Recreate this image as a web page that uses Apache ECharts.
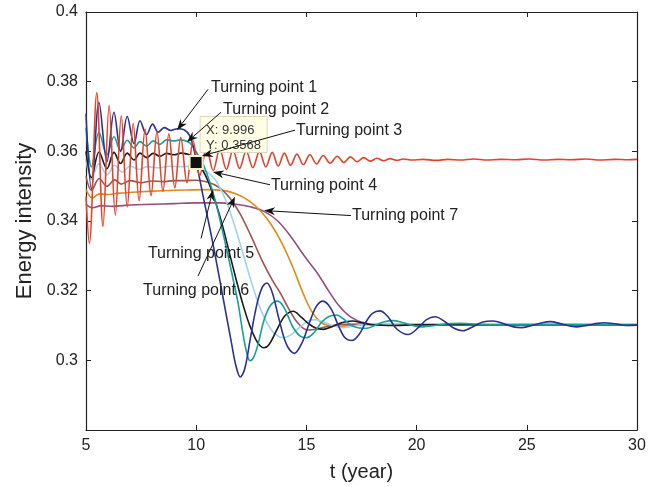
<!DOCTYPE html>
<html>
<head>
<meta charset="utf-8">
<script src="https://cdn.jsdelivr.net/npm/echarts@6/dist/echarts.min.js"></script>
<style>
  html, body { margin: 0; padding: 0; background: #fff; }
  #chart { width: 661px; height: 487px; }
</style>
</head>
<body>
<div id="chart"></div>
<script>
// 曲线数据 [t, 能源强度]
const navyLine = [[5.0,0.3708],[5.25,0.3492],[5.59,0.3740],[5.95,0.3570],[6.27,0.3712],[6.57,0.3600],[6.87,0.3700],[7.18,0.3622],[7.45,0.3688],[7.75,0.3648],[8.02,0.3678],[8.28,0.3655],[8.55,0.3668],[8.85,0.3660],[9.15,0.3665],[9.45,0.3662],[9.7,0.3645],[9.9,0.3605],[10.1,0.3540],[10.35,0.3460],[10.6,0.3385],[10.85,0.3305],[11.1,0.3220],[11.35,0.3135],[11.6,0.3050],[11.8,0.2985],[12.0,0.2952],[12.2,0.2975],[12.45,0.3060],[12.75,0.3160],[13.0,0.3210],[13.2,0.3222],[13.45,0.3195],[13.75,0.3120],[14.1,0.3045],[14.45,0.3020],[14.8,0.3050],[15.15,0.3110],[15.45,0.3155],[15.75,0.3170],[16.1,0.3150],[16.45,0.3100],[16.75,0.3065],[17.07,0.3057],[17.4,0.3075],[17.7,0.3110],[18.0,0.3135],[18.34,0.3142],[18.7,0.3125],[19.1,0.3090],[19.61,0.3074],[20.1,0.3095],[20.45,0.3117],[20.84,0.3125],[21.3,0.3110],[21.7,0.3092],[22.1,0.3085],[22.6,0.3098],[23.0,0.3110],[23.47,0.3113],[24.0,0.3104],[24.4,0.3096],[24.78,0.3094],[25.3,0.3101],[25.7,0.3108],[26.05,0.3111],[26.6,0.3104],[27.0,0.3098],[27.28,0.3096],[27.8,0.3101],[28.2,0.3106],[28.5,0.3108],[29.0,0.3105],[29.5,0.3100],[30.0,0.3101]];

const tealLine = [[5.0,0.3668],[5.25,0.3555],[5.59,0.3655],[5.95,0.3590],[6.27,0.3642],[6.57,0.3602],[6.87,0.3632],[7.18,0.3610],[7.45,0.3628],[7.75,0.3615],[8.05,0.3630],[8.35,0.3620],[8.65,0.3633],[9.0,0.3630],[9.3,0.3633],[9.6,0.3628],[9.8,0.3618],[10.0,0.3598],[10.3,0.3565],[10.6,0.3515],[10.9,0.3450],[11.2,0.3370],[11.5,0.3285],[11.7,0.3225],[11.9,0.3165],[12.1,0.3085],[12.28,0.3025],[12.44,0.2999],[12.6,0.3008],[12.8,0.3045],[13.1,0.3120],[13.4,0.3160],[13.7,0.3170],[14.0,0.3150],[14.35,0.3100],[14.7,0.3070],[15.0,0.3065],[15.35,0.3080],[15.7,0.3110],[16.0,0.3125],[16.37,0.3130],[16.7,0.3118],[17.05,0.3100],[17.4,0.3093],[17.73,0.3092],[18.1,0.3100],[18.5,0.3110],[18.93,0.3114],[19.4,0.3108],[19.9,0.3099],[20.3,0.3096],[20.8,0.3100],[21.4,0.3105],[22.0,0.3106],[23.0,0.3103],[24.0,0.3102],[26.0,0.3103],[28.0,0.3102],[30.0,0.3102]];

const blackLine = [[5.0,0.3600],[5.25,0.3525],[5.59,0.3598],[5.95,0.3550],[6.27,0.3597],[6.57,0.3565],[6.87,0.3595],[7.18,0.3575],[7.45,0.3595],[7.75,0.3582],[8.05,0.3594],[8.35,0.3586],[8.65,0.3594],[9.0,0.3590],[9.3,0.3595],[9.6,0.3592],[9.85,0.3585],[10.0,0.3568],[10.3,0.3545],[10.6,0.3505],[10.9,0.3450],[11.2,0.3385],[11.5,0.3310],[11.8,0.3235],[12.1,0.3165],[12.4,0.3105],[12.7,0.3060],[12.9,0.3042],[13.08,0.3036],[13.3,0.3045],[13.6,0.3080],[13.95,0.3122],[14.2,0.3137],[14.4,0.3141],[14.75,0.3125],[15.1,0.3105],[15.45,0.3092],[15.77,0.3089],[16.1,0.3095],[16.5,0.3106],[16.8,0.3111],[17.1,0.3113],[17.5,0.3108],[18.0,0.3102],[19.0,0.3100],[20.0,0.3102],[22.0,0.3102],[25.0,0.3102],[30.0,0.3102]];

const lightBlueLine = [[5.0,0.3578],[5.25,0.3520],[5.6,0.3565],[5.95,0.3532],[6.3,0.3560],[6.65,0.3540],[7.0,0.3558],[7.4,0.3548],[7.8,0.3556],[8.3,0.3553],[8.8,0.3557],[9.3,0.3556],[9.8,0.3557],[10.2,0.3550],[10.67,0.3532],[11.0,0.3505],[11.4,0.3450],[11.8,0.3375],[12.2,0.3290],[12.6,0.3205],[13.0,0.3135],[13.4,0.3088],[13.7,0.3070],[13.95,0.3065],[14.3,0.3073],[14.7,0.3095],[15.05,0.3112],[15.39,0.3117],[15.8,0.3110],[16.2,0.3099],[16.66,0.3094],[17.1,0.3098],[17.6,0.3104],[18.3,0.3105],[19.0,0.3103],[22.0,0.3103],[26.0,0.3103],[30.0,0.3103]];

const brownLine = [[5.0,0.3528],[5.25,0.3488],[5.6,0.3522],[5.95,0.3500],[6.3,0.3518],[6.6,0.3506],[7.0,0.3516],[7.5,0.3510],[8.0,0.3515],[8.5,0.3513],[9.0,0.3516],[9.5,0.3516],[10.0,0.3517],[10.5,0.3512],[11.0,0.3498],[11.5,0.3468],[12.0,0.3420],[12.5,0.3355],[13.0,0.3285],[13.5,0.3225],[13.8,0.3195],[14.2,0.3148],[14.6,0.3108],[15.05,0.3087],[15.5,0.3090],[16.0,0.3098],[16.6,0.3103],[17.5,0.3104],[18.5,0.3103],[22.0,0.3103],[26.0,0.3103],[30.0,0.3103]];

const orangeLine = [[5.0,0.3490],[5.3,0.3466],[5.6,0.3478],[6.0,0.3476],[6.5,0.3480],[7.5,0.3484],[8.5,0.3487],[9.5,0.3489],[10.5,0.3490],[11.2,0.3488],[11.8,0.3478],[12.4,0.3458],[12.9,0.3430],[13.4,0.3390],[13.9,0.3335],[14.4,0.3265],[14.8,0.3200],[15.2,0.3145],[15.6,0.3112],[16.0,0.3100],[16.5,0.3098],[17.2,0.3101],[18.0,0.3103],[22.0,0.3103],[26.0,0.3103],[30.0,0.3103]];

const purpleLine = [[5.0,0.3448],[5.3,0.3438],[5.7,0.3444],[6.2,0.3442],[7.0,0.3446],[8.0,0.3448],[9.0,0.3450],[10.0,0.3452],[11.0,0.3452],[11.8,0.3448],[12.5,0.3440],[13.1,0.3427],[13.7,0.3400],[14.3,0.3355],[14.9,0.3300],[15.5,0.3250],[16.0,0.3200],[16.5,0.3155],[17.0,0.3125],[17.6,0.3108],[18.3,0.3103],[19.0,0.3102],[24.0,0.3102],[30.0,0.3102]];

const redLine = [[5.0,0.3470],[5.15,0.3336],[5.49,0.3768],[5.77,0.3384],[6.05,0.3732],[6.33,0.3417],[6.6,0.3702],[6.87,0.3440],[7.14,0.3680],[7.41,0.3458],[7.68,0.3664],[7.95,0.3472],[8.22,0.3656],[8.49,0.3485],[8.76,0.3650],[9.03,0.3495],[9.3,0.3640],[9.58,0.3510],[9.86,0.3630],[10.16,0.3530],[10.47,0.3610],[10.77,0.3545],[11.07,0.3606],[11.37,0.3548],[11.67,0.3603],[11.97,0.3551],[12.27,0.3601],[12.57,0.3553],[12.87,0.3600],[13.16,0.3555],[13.45,0.3597],[13.72,0.3558],[14.0,0.3595],[14.28,0.3560],[14.57,0.3592],[14.86,0.3562],[15.16,0.3590],[15.46,0.3564],[15.76,0.3588],[16.08,0.3566],[16.4,0.3586],[16.7,0.3568],[17.0,0.3584],[17.3,0.3570],[17.6,0.3582],[17.9,0.3572],[18.2,0.3580],[18.5,0.3573],[18.8,0.3579],[19.1,0.3574],[19.4,0.3578],[19.8,0.3575],[20.3,0.3577],[20.9,0.3574],[21.4,0.3577],[22.0,0.3575],[22.6,0.3578],[23.2,0.3575],[23.8,0.3577],[24.5,0.3576],[25.1,0.3578],[25.8,0.3575],[26.4,0.3577],[27.0,0.3576],[27.7,0.3578],[28.3,0.3575],[29.0,0.3577],[29.6,0.3576],[30.0,0.3577]];

const lineColors = ['#2b3190', '#17a09b', '#1a1a1a', '#9fd3f2', '#a0534f', '#e08a1a', '#8e4f84', '#e2442b'];

// 转折点标注: 文字位置, 箭头起点, 箭头终点 (数据坐标)
const turningNotes = [
  { text: 'Turning point 1', at: [10.67, 0.37834], from: [10.535, 0.37777], to: [9.13, 0.36608] },
  { text: 'Turning point 2', at: [11.22, 0.37206], from: [11.125, 0.37121], to: [9.58, 0.36266] },
  { text: 'Turning point 3', at: [14.53, 0.36608], from: [14.48, 0.36608], to: [10.26, 0.35867] },
  { text: 'Turning point 4', at: [13.39, 0.35011], from: [13.35, 0.3504], to: [10.76, 0.3541] },
  { text: 'Turning point 5', at: [7.81, 0.33073], from: [10.22, 0.335], to: [10.76, 0.34897] },
  { text: 'Turning point 6', at: [7.59, 0.3199], from: [10.08, 0.32417], to: [11.76, 0.34698] },
  { text: 'Turning point 7', at: [17.07, 0.34156], from: [17.02, 0.34156], to: [13.08, 0.34299] }
];
const dataTip = [9.996, 0.3568];

const fontName = '"Liberation Sans", Arial, Helvetica, sans-serif';

const chart = echarts.init(document.getElementById('chart'), null, { renderer: 'canvas' });

function makeSeries(data, color, z) {
  return {
    type: 'line',
    data: data,
    showSymbol: false,
    smooth: 0.35,
    lineStyle: { width: 1.6, color: color },
    z: z,
    animation: false
  };
}

const option = {
  backgroundColor: '#fff',
  animation: false,
  grid: { left: 86, right: 24, top: 12, bottom: 54 },
  xAxis: [
    {
      type: 'value', min: 5, max: 30, interval: 5,
      name: 't (year)', nameLocation: 'middle', nameGap: 32,
      nameTextStyle: { fontSize: 20, color: '#222', fontFamily: fontName },
      axisLine: { lineStyle: { color: '#222', width: 1.2 } },
      axisTick: { inside: true, length: 5, lineStyle: { color: '#222' } },
      axisLabel: { fontSize: 16, color: '#222', fontFamily: fontName, margin: 8 },
      splitLine: { show: false }
    },
    {
      type: 'value', position: 'top', min: 5, max: 30, interval: 5,
      axisLine: { lineStyle: { color: '#222', width: 1.2 } },
      axisTick: { inside: true, length: 5, lineStyle: { color: '#222' } },
      axisLabel: { show: false },
      splitLine: { show: false }
    }
  ],
  yAxis: [
    {
      type: 'value', min: 0.28, max: 0.4, interval: 0.02,
      name: 'Energy intensity', nameLocation: 'middle', nameGap: 50,
      nameTextStyle: { fontSize: 22, color: '#222', fontFamily: fontName },
      axisLine: { lineStyle: { color: '#222', width: 1.2 } },
      axisTick: { inside: true, length: 5, lineStyle: { color: '#222' } },
      axisLabel: {
        fontSize: 16, color: '#222', fontFamily: fontName, margin: 8,
        formatter: function (v) { return v < 0.29 ? '' : String(parseFloat(v.toFixed(2))); }
      },
      splitLine: { show: false }
    },
    {
      type: 'value', position: 'right', min: 0.28, max: 0.4, interval: 0.02,
      axisLine: { lineStyle: { color: '#222', width: 1.2 } },
      axisTick: { inside: true, length: 5, lineStyle: { color: '#222' } },
      axisLabel: { show: false },
      splitLine: { show: false }
    }
  ],
  series: [
    makeSeries(purpleLine, lineColors[6], 2),
    makeSeries(orangeLine, lineColors[5], 3),
    makeSeries(brownLine, lineColors[4], 4),
    makeSeries(lightBlueLine, lineColors[3], 5),
    makeSeries(blackLine, lineColors[2], 6),
    makeSeries(tealLine, lineColors[1], 7),
    makeSeries(navyLine, lineColors[0], 8),
    makeSeries(redLine, lineColors[7], 9)
  ]
};

chart.setOption(option);

// 标注 (箭头 + 文字 + 数据提示框)
function toPx(c) {
  return chart.convertToPixel({ xAxisIndex: 0, yAxisIndex: 0 }, c);
}

function arrowEls(note) {
  const s = toPx(note.from);
  const e = toPx(note.to);
  const dx = e[0] - s[0], dy = e[1] - s[1];
  const len = Math.sqrt(dx * dx + dy * dy);
  const ux = dx / len, uy = dy / len;
  const nx = -uy, ny = ux;
  const L = 11, W = 4;
  const bx = e[0] - ux * L, by = e[1] - uy * L;
  const mx = e[0] - ux * L * 0.7, my = e[1] - uy * L * 0.7;
  return [
    {
      type: 'line', z: 100,
      shape: { x1: s[0], y1: s[1], x2: mx, y2: my },
      style: { stroke: '#111', lineWidth: 1 }
    },
    {
      type: 'polygon', z: 100,
      shape: { points: [[e[0], e[1]], [bx + nx * W, by + ny * W], [mx, my], [bx - nx * W, by - ny * W]] },
      style: { fill: '#111' }
    }
  ];
}

const graphics = [];
const tip = toPx(dataTip);
graphics.push({
  type: 'rect', z: 90,
  shape: { x: tip[0] + 4, y: tip[1] - 46, width: 67, height: 36 },
  style: { fill: '#ffffe6', stroke: '#dcd8b4', lineWidth: 1 }
});
graphics.push({
  type: 'text', z: 91, x: tip[0] + 10, y: tip[1] - 32,
  style: { text: 'X: 9.996', fill: '#333', font: '13px ' + fontName, verticalAlign: 'middle' }
});
graphics.push({
  type: 'text', z: 91, x: tip[0] + 10, y: tip[1] - 17,
  style: { text: 'Y: 0.3568', fill: '#333', font: '13px ' + fontName, verticalAlign: 'middle' }
});
graphics.push({
  type: 'rect', z: 92,
  shape: { x: tip[0] - 6.5, y: tip[1] - 6.5, width: 13, height: 13 },
  style: { fill: '#111', stroke: '#f4f0c8', lineWidth: 2 }
});

turningNotes.forEach(function (note) {
  arrowEls(note).forEach(function (el) { graphics.push(el); });
  const p = toPx(note.at);
  graphics.push({
    type: 'text', z: 101, x: p[0], y: p[1],
    style: { text: note.text, fill: '#222', font: '16px ' + fontName, verticalAlign: 'middle' }
  });
});

chart.setOption({ graphic: graphics });
</script>
</body>
</html>
